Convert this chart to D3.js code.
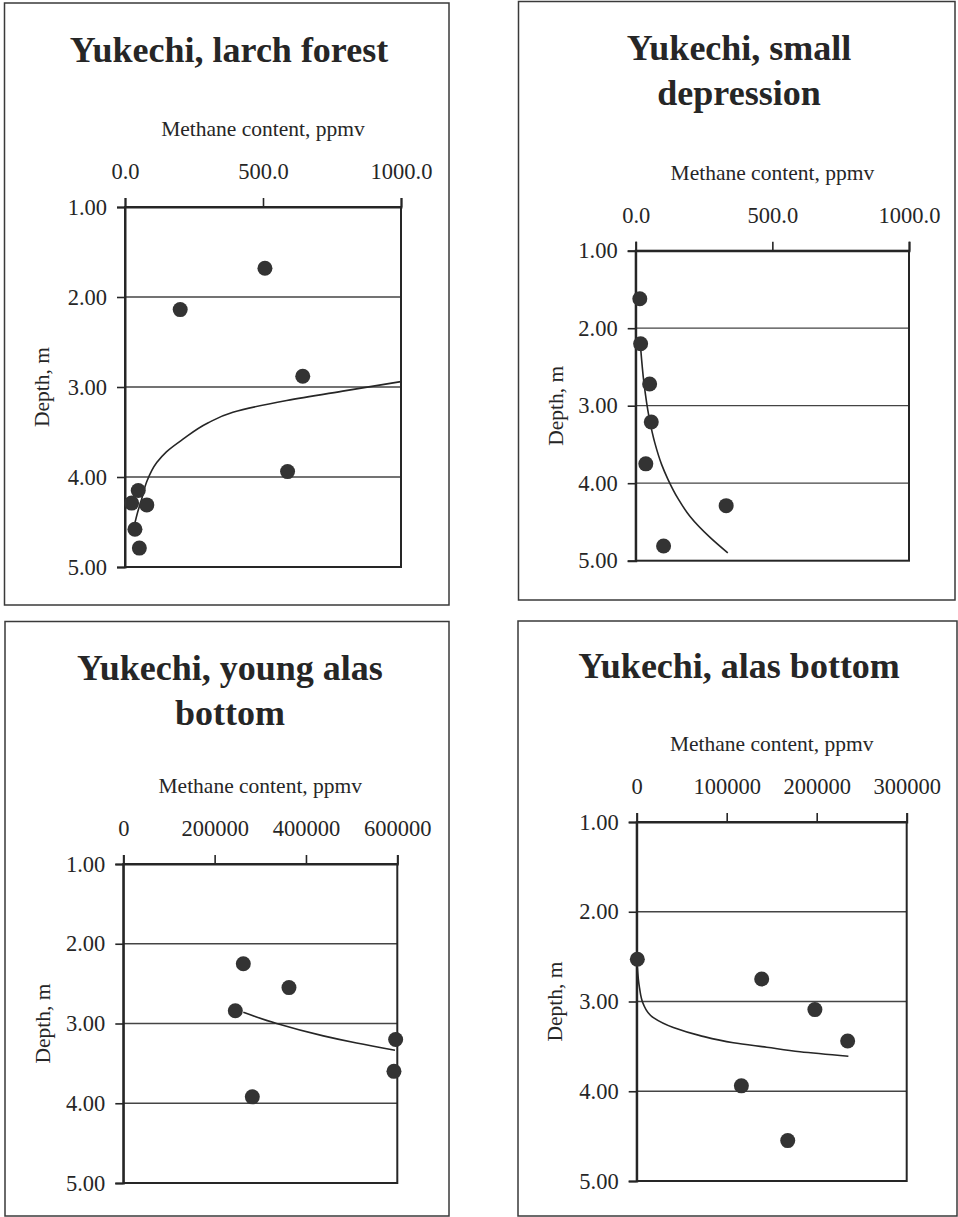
<!DOCTYPE html>
<html>
<head>
<meta charset="utf-8">
<script src="https://cdn.jsdelivr.net/npm/d3@7"></script>
<style>
  html, body { margin: 0; padding: 0; background: #fff; }
  svg { display: block; }
  text { font-family: "Liberation Serif", "Times New Roman", serif; fill: #262626; }
</style>
</head>
<body>
<svg id="chart" width="958" height="1217"></svg>
<script>
// ---------- DATA ----------
const depthTicks = [1, 2, 3, 4, 5];
const gridDepths = [2, 3, 4];

// Panel 1: Yukechi, larch forest
const larchTitle = ["Yukechi, larch forest"];
const larchXTicks = [0, 500, 1000];
const larchMethane = [507, 200, 644, 589, 48, 24, 79, 36, 52];
const larchDepth   = [1.68, 2.14, 2.88, 3.94, 4.15, 4.29, 4.31, 4.58, 4.79];
const larchTrendMethane = [1000, 800, 586, 391, 300, 210, 150, 115, 79, 60, 45, 36];
const larchTrendDepth   = [2.94, 3.04, 3.15, 3.28, 3.40, 3.58, 3.72, 3.84, 4.05, 4.25, 4.40, 4.51];

// Panel 2: Yukechi, small depression
const depTitle = ["Yukechi, small", "depression"];
const depXTicks = [0, 500, 1000];
const depMethane = [15, 18, 51, 57, 37, 331, 102];
const depDepth   = [1.62, 2.20, 2.72, 3.21, 3.75, 4.29, 4.81];
const depTrendMethane = [18, 30, 49, 70, 95, 118, 155, 199, 272, 337];
const depTrendDepth   = [2.25, 2.70, 3.15, 3.48, 3.76, 3.95, 4.20, 4.43, 4.70, 4.90];

// Panel 3: Yukechi, young alas bottom
const youngTitle = ["Yukechi, young alas", "bottom"];
const youngXTicks = [0, 200000, 400000, 600000];
const youngMethane = [262800, 362800, 245300, 596400, 592700, 282500];
const youngDepth   = [2.25, 2.55, 2.84, 3.20, 3.60, 3.92];
const youngTrendMethane = [262800, 335800, 438000, 510900, 594900];
const youngTrendDepth   = [2.86, 3.00, 3.155, 3.245, 3.335];

// Panel 4: Yukechi, alas bottom
const alasTitle = ["Yukechi, alas bottom"];
const alasXTicks = [0, 100000, 200000, 300000];
const alasMethane = [700, 138900, 198000, 234400, 116300, 167800];
const alasDepth   = [2.53, 2.75, 3.09, 3.44, 3.94, 4.55];
const alasTrendMethane = [740, 3000, 7400, 18500, 40700, 70400, 107400, 144400, 181500, 235200];
const alasTrendDepth   = [2.62, 2.84, 3.03, 3.18, 3.29, 3.38, 3.46, 3.51, 3.56, 3.61];

const xAxisTitle = "Methane content, ppmv";
const yAxisTitle = "Depth, m";

// ---------- LAYOUT ----------
const panels = [
  { title: larchTitle, xTicks: larchXTicks, xFmt: d3.format(".1f"),
    m: larchMethane, d: larchDepth, tm: larchTrendMethane, td: larchTrendDepth,
    box: [4.5, 3, 449, 605], plot: [125, 207, 401, 567], titleX: 229, titleY: [62], yTitleX: 42 },
  { title: depTitle, xTicks: depXTicks, xFmt: d3.format(".1f"),
    m: depMethane, d: depDepth, tm: depTrendMethane, td: depTrendDepth,
    box: [518.5, 1.5, 955, 600], plot: [635.7, 250.7, 909, 560.7], titleX: 739, titleY: [60, 105], yTitleX: 556 },
  { title: youngTitle, xTicks: youngXTicks, xFmt: d => String(d),
    m: youngMethane, d: youngDepth, tm: youngTrendMethane, td: youngTrendDepth,
    box: [5, 621.5, 449, 1216], plot: [123.3, 864, 397.3, 1183], titleX: 230, titleY: [680, 725], yTitleX: 43 },
  { title: alasTitle, xTicks: alasXTicks, xFmt: d => String(d),
    m: alasMethane, d: alasDepth, tm: alasTrendMethane, td: alasTrendDepth,
    box: [518, 621, 957, 1216], plot: [636.7, 822, 906.7, 1181], titleX: 739, titleY: [678], yTitleX: 555 }
];

const svg = d3.select("#chart");
const ink = "#262626";

panels.forEach(p => {
  const g = svg.append("g");
  const [bx0, by0, bx1, by1] = p.box;
  g.append("rect").attr("x", bx0).attr("y", by0).attr("width", bx1 - bx0).attr("height", by1 - by0)
    .attr("fill", "#fff").attr("stroke", "#3a3a3a").attr("stroke-width", 1.5);

  const [px0, py0, px1, py1] = p.plot;
  const x = d3.scaleLinear().domain([p.xTicks[0], p.xTicks[p.xTicks.length - 1]]).range([px0, px1]);
  const y = d3.scaleLinear().domain([1, 5]).range([py0, py1]);

  // title
  p.title.forEach((t, i) => {
    g.append("text").attr("x", p.titleX).attr("y", p.titleY[i])
      .attr("text-anchor", "middle").attr("font-size", 36).attr("font-weight", "bold")
      .attr("fill", "#2a2a2a").text(t);
  });

  // gridlines
  g.selectAll("line.grid").data(gridDepths).enter().append("line")
    .attr("x1", px0).attr("x2", px1).attr("y1", d => y(d)).attr("y2", d => y(d))
    .attr("stroke", "#444").attr("stroke-width", 1.3);

  // plot frame
  g.append("rect").attr("x", px0).attr("y", py0).attr("width", px1 - px0).attr("height", py1 - py0)
    .attr("fill", "none").attr("stroke", ink).attr("stroke-width", 2);

  // axes
  const xAxis = g.append("g").attr("transform", `translate(0,${py0})`)
    .call(d3.axisTop(x).tickValues(p.xTicks).tickFormat(p.xFmt).tickSize(9).tickPadding(19));
  const yAxis = g.append("g").attr("transform", `translate(${px0},0)`)
    .call(d3.axisLeft(y).tickValues(depthTicks).tickFormat(d3.format(".2f")).tickSize(8).tickPadding(10));
  [xAxis, yAxis].forEach(a => {
    a.select(".domain").attr("stroke", ink).attr("stroke-width", 2);
    a.selectAll(".tick line").attr("stroke", ink).attr("stroke-width", 1.6);
    a.selectAll(".tick text").attr("font-size", 22.5).attr("font-family", "Liberation Serif").attr("fill", ink);
  });

  // axis titles
  g.append("text").attr("x", (px0 + px1) / 2).attr("y", py0 - 71)
    .attr("text-anchor", "middle").attr("font-size", 21.5).text(xAxisTitle);
  g.append("text").attr("transform", `translate(${p.yTitleX},${(py0 + py1) / 2}) rotate(-90)`)
    .attr("text-anchor", "middle").attr("dominant-baseline", "central").attr("font-size", 21.5).text(yAxisTitle);

  // trend line
  const trend = p.tm.map((v, i) => [v, p.td[i]]);
  g.append("path").datum(trend)
    .attr("d", d3.line().x(d => x(d[0])).y(d => y(d[1])).curve(d3.curveMonotoneY))
    .attr("fill", "none").attr("stroke", ink).attr("stroke-width", 1.6);

  // points
  const pts = p.m.map((v, i) => [v, p.d[i]]);
  g.selectAll("circle").data(pts).enter().append("circle")
    .attr("cx", d => x(d[0])).attr("cy", d => y(d[1])).attr("r", 7.5)
    .attr("fill", "#333");
});
</script>
</body>
</html>
